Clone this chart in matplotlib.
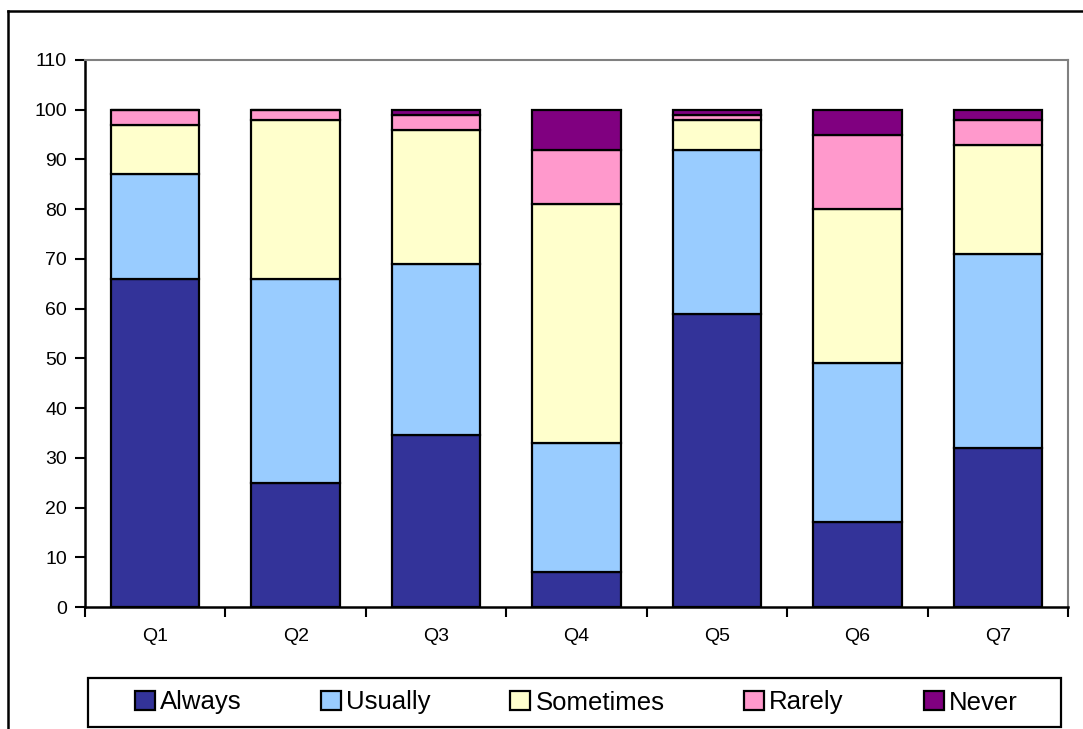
import matplotlib
matplotlib.use("Agg")
import matplotlib.pyplot as plt
import numpy as np
from matplotlib.lines import Line2D
from matplotlib.patches import Rectangle

plt.rcParams['font.family'] = ['Liberation Sans', 'DejaVu Sans']

# data
questions = ["Q1", "Q2", "Q3", "Q4", "Q5", "Q6", "Q7"]
always    = [66, 25, 34.5, 7, 59, 17, 32]
usually   = [21, 41, 34.5, 26, 33, 32, 39]
sometimes = [10, 32, 27, 48, 6, 31, 22]
rarely    = [3, 2, 3, 11, 1, 15, 5]
never     = [0, 0, 1, 8, 1, 5, 2]

series = [("Always", always, "#333399"),
          ("Usually", usually, "#99CCFF"),
          ("Sometimes", sometimes, "#FFFFCC"),
          ("Rarely", rarely, "#FF99CC"),
          ("Never", never, "#800080")]

W, H = 1083, 729
fig = plt.figure(figsize=(W / 100., H / 100.), dpi=100, facecolor='w')
ax = fig.add_axes([85. / W, 1 - 607. / H, (1068. - 85) / W, (607. - 60) / H])

x = np.arange(len(questions))
bottom = np.zeros(len(questions))
handles = []
for name, vals, col in series:
    vals = np.array(vals, dtype=float)
    bars = ax.bar(x, vals, width=0.63, bottom=bottom, color=col,
                  edgecolor='k', linewidth=1.6, label=name, zorder=3)
    handles.append(bars)
    bottom += vals

ax.set_xlim(-0.5, len(questions) - 0.5)
ax.set_ylim(0, 110)
ax.set_yticks(range(0, 111, 10))
ax.tick_params(axis='y', direction='out', length=7, width=1.5,
               labelsize=14, pad=6)

ax.set_xticks(x)
ax.set_xticklabels(questions)
ax.tick_params(axis='x', which='major', length=0, labelsize=14, pad=15)
ax.set_xticks(np.arange(-0.5, len(questions)), minor=True)
ax.tick_params(axis='x', which='minor', direction='out', length=7, width=1.5)

ax.spines['left'].set_linewidth(1.8)
ax.spines['bottom'].set_linewidth(1.8)
ax.spines['top'].set_color('#808080')
ax.spines['right'].set_color('#808080')
ax.spines['top'].set_linewidth(1.5)
ax.spines['right'].set_linewidth(1.5)

# chart area border (top and left visible)
fig.add_artist(Line2D([8. / W, 1.0], [1 - 11. / H, 1 - 11. / H],
                      transform=fig.transFigure, color='k', lw=1.8))
fig.add_artist(Line2D([8. / W, 8. / W], [0, 1 - 11. / H],
                      transform=fig.transFigure, color='k', lw=1.8))

# legend box
fig.add_artist(Rectangle((88. / W, 1 - 727. / H), (1061. - 88) / W, 49. / H,
                         transform=fig.transFigure, fill=False,
                         edgecolor='k', lw=1.6))
leg = fig.legend(handles, [s[0] for s in series], ncol=5,
                 loc="center", bbox_to_anchor=(576. / W, 1 - 702.5 / H),
                 prop={'size': 18.5}, frameon=False,
                 handlelength=0.78, handleheight=0.78, handletextpad=0.2,
                 columnspacing=3.1, borderaxespad=0, borderpad=0)

fig.savefig("out.png", dpi=100, facecolor='w')
